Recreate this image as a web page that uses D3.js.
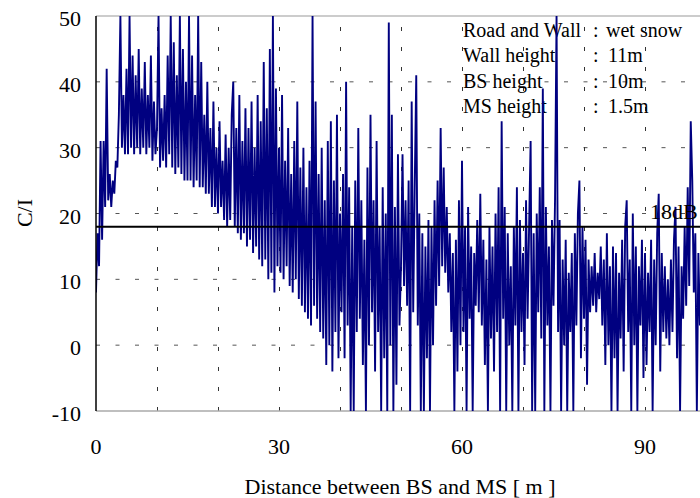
<!DOCTYPE html>
<html>
<head>
<meta charset="utf-8">
<script src="https://cdn.jsdelivr.net/npm/d3@7"></script>
<style>
  body { margin: 0; background: #fff; }
  svg text { font-family: "Liberation Serif", "Times New Roman", serif; fill: #000; }
</style>
</head>
<body>
<div id="chart"></div>
<script>
// C/I samples, 0.25 m apart, one array per 10 m
const step = 0.25;
const ci0 = [8,17,12,31,16,31,21,42,22,26,21,25,23,28,27,35,50,30,38,29, 42,29,50,30,44,29,41,30,45,29,39,30,43,29,38,30,44,28,37,29];
const ci10 = [33,50,27,36,28,38,27,44,29,50,27,46,26,41,27,50,26,45,25,40, 25,50,25,44,24,38,25,50,24,43,24,35,23,40,23,33,21,37,21,30];
const ci20 = [20,34,21,28,19,32,18,30,19,35,40,18,33,17,38,16,31,17,36,15, 33,16,37,14,30,15,38,13,34,12,43,13,36,10,45,11,50,8,39,12];
const ci30 = [30,11,38,10,28,12,33,9,26,8,31,10,37,7,27,6,30,5,24,4, 28,3,50,6,37,4,26,2,30,1,22,-3,31,0,34,-4,25,2,35,-2];
const ci40 = [20,5,26,-2,40,3,24,-10,18,-10,25,2,33,4,22,-3,16,-10,27,0, 35,5,22,-4,31,2,18,-10,24,-2,20,-10,49,0,35,-10,21,-6,29,3];
const ci50 = [12,29,9,22,6,25,-10,37,5,24,41,3,20,-10,17,-10,15,-2,19,-10, 18,0,22,6,25,9,33,12,27,11,21,8,17,2,14,-10,16,-4,22,0];
const ci60 = [28,2,18,-10,21,4,15,-10,14,6,19,5,23,3,16,-3,13,-10,18,1, 15,-4,20,2,24,-10,34,4,21,-10,17,0,12,-10,18,3,24,-10,19,2];
const ci70 = [14,-3,22,4,18,31,-10,17,-10,20,5,24,1,39,-10,21,3,15,-10,19, 6,22,50,2,19,-10,13,0,16,-10,11,2,14,-10,17,3,20,25,-2,18];
const ci80 = [4,16,-6,13,5,12,6,14,5,11,7,15,3,13,-3,17,0,12,-10,15, -2,14,-10,11,1,16,-4,18,22,2,13,-10,20,0,15,-10,12,3,16,-5];
const ci90 = [14,-3,11,2,16,-10,13,0,17,23,-4,14,2,12,1,10,0,13,2,16, 21,-2,15,-10,12,4,18,6,24,9,34,25,8,17,-10,14,3,12,-10,10];
const segments = [ci0, ci10, ci20, ci30, ci40, ci50, ci60, ci70, ci80, ci90];

const xTicks = [0, 30, 60, 90];
const yTicks = [-10, 0, 10, 20, 30, 40, 50];
const xGrid = [10, 20, 30, 40, 50, 60, 70, 80, 90];
const yGrid = [0, 10, 20, 30, 40];
const threshold = 18;
const legendRows = [
  ["Road and Wall", "wet snow"],
  ["Wall height", "11m"],
  ["BS height", "10m"],
  ["MS height", "1.5m"]
];

const data = [];
segments.forEach((seg, k) => {
  seg.forEach((v, i) => data.push({ d: k * 10 + i * step, ci: v }));
});

const W = 700, H = 498;
const margin = { top: 16, left: 96 };
const plotW = 610, plotH = 395;

const svg = d3.select('#chart').append('svg')
  .attr('width', W).attr('height', H);

const x = d3.scaleLinear().domain([0, 100]).range([margin.left, margin.left + plotW]);
const y = d3.scaleLinear().domain([-10, 50]).range([margin.top + plotH, margin.top]);

svg.append('clipPath').attr('id', 'plotClip')
  .append('rect')
  .attr('x', margin.left).attr('y', margin.top - 1)
  .attr('width', plotW).attr('height', plotH + 2);

// grid
svg.append('g').selectAll('line')
  .data(yGrid)
  .join('line')
  .attr('x1', x(0)).attr('x2', x(100))
  .attr('y1', d => y(d)).attr('y2', d => y(d))
  .attr('stroke', '#555')
  .attr('stroke-width', 1)
  .attr('stroke-dasharray', '4,15.5');

svg.append('g').selectAll('line')
  .data(xGrid)
  .join('line')
  .attr('x1', d => Math.round(x(d)) + 0.5).attr('x2', d => Math.round(x(d)) + 0.5)
  .attr('y1', y(-10)).attr('y2', y(50))
  .attr('stroke', '#333')
  .attr('stroke-width', 1)
  .attr('stroke-dasharray', '4,16');

// frame
svg.append('line')
  .attr('x1', x(0)).attr('x2', W).attr('y1', y(50)).attr('y2', y(50))
  .attr('stroke', '#999').attr('stroke-width', 1);
svg.append('line')
  .attr('x1', x(0)).attr('x2', W).attr('y1', y(-10)).attr('y2', y(-10))
  .attr('stroke', '#aaa').attr('stroke-width', 1.5);

// legend text (under the data)
const legend = svg.append('g');
legendRows.forEach((r, i) => {
  const by = 37 + i * 25.3;
  legend.append('text').attr('x', 463).attr('y', by).style('font-size', '20px').text(r[0]);
  legend.append('text').attr('x', 593).attr('y', by).style('font-size', '20px').text(':');
  legend.append('text').attr('x', i === 0 ? 606 : 608).attr('y', by).style('font-size', '20px').text(r[1]);
});

// signal
const line = d3.line()
  .x(d => x(d.d))
  .y(d => y(d.ci));

svg.append('path')
  .datum(data)
  .attr('clip-path', 'url(#plotClip)')
  .attr('fill', 'none')
  .attr('stroke', '#000080')
  .attr('stroke-width', 1.9)
  .attr('stroke-linejoin', 'bevel')
  .attr('d', line);

// threshold
svg.append('line')
  .attr('x1', x(0)).attr('x2', W)
  .attr('y1', y(threshold)).attr('y2', y(threshold))
  .attr('stroke', '#000').attr('stroke-width', 2);
svg.append('text')
  .attr('x', 650).attr('y', y(threshold) - 8)
  .style('font-size', '22px')
  .text(threshold + 'dB');

// left axis line
svg.append('line')
  .attr('x1', x(0)).attr('x2', x(0))
  .attr('y1', y(-10)).attr('y2', y(50))
  .attr('stroke', '#000').attr('stroke-width', 1.5);

// tick labels
svg.append('g').selectAll('text')
  .data(yTicks)
  .join('text')
  .attr('x', 81)
  .attr('y', d => y(d) + 10)
  .attr('text-anchor', 'end')
  .style('font-size', '22px')
  .text(d => d);

svg.append('g').selectAll('text')
  .data(xTicks)
  .join('text')
  .attr('x', d => x(d))
  .attr('y', 454)
  .attr('text-anchor', 'middle')
  .style('font-size', '22px')
  .text(d => d);

// axis titles
svg.append('text')
  .attr('x', 400).attr('y', 494)
  .attr('text-anchor', 'middle')
  .style('font-size', '22px')
  .text('Distance between BS and MS [ m ]');

svg.append('text')
  .attr('transform', 'translate(32,213) rotate(-90)')
  .attr('text-anchor', 'middle')
  .style('font-size', '22px')
  .text('C/I');
</script>
</body>
</html>
